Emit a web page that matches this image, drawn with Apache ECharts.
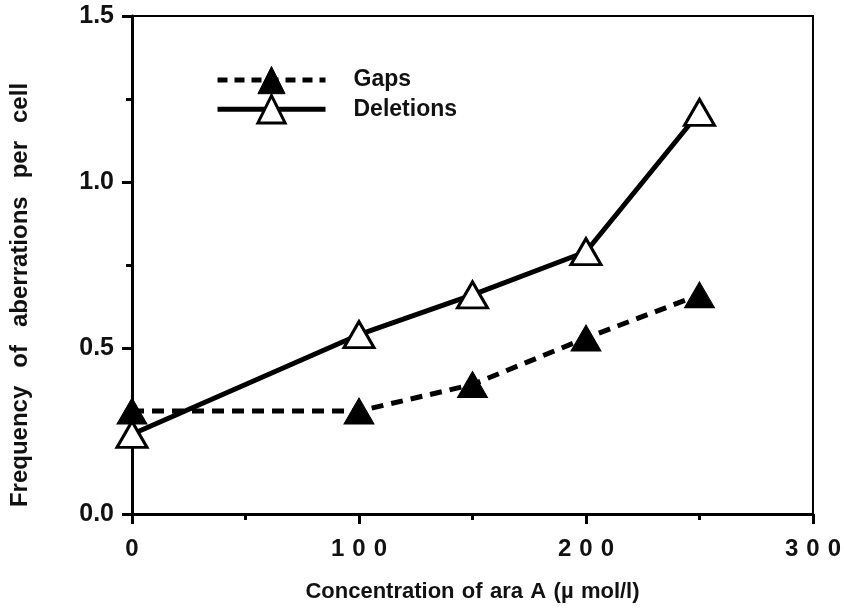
<!DOCTYPE html>
<html><head><meta charset="utf-8">
<script src="https://cdn.jsdelivr.net/npm/echarts@6/dist/echarts.min.js"></script>
<style>html,body{margin:0;padding:0;background:#fff}#c{width:844px;height:613px}</style>
</head><body><div id="c"></div>
<script>
const concentrations = [0, 100, 150, 200, 250];
const gaps = [0.31, 0.31, 0.39, 0.53, 0.66];
const deletions = [0.24, 0.54, 0.66, 0.79, 1.21];
const xTicks = [0, 100, 200, 300];
const yTicks = [0.0, 0.5, 1.0, 1.5];
const xTitle = 'Concentration of ara A (µ mol/l)';
const yTitle = 'Frequency of aberrations per cell';

const FONT = '"Liberation Sans", Arial, sans-serif';
const chart = echarts.init(document.getElementById('c'));
const pairs = v => concentrations.map((x, i) => [x, v[i]]);
chart.setOption({
  animation: false,
  grid: {left: 131, right: 31, top: 16, bottom: 99, show: true, borderColor: '#000', borderWidth: 2, backgroundColor: 'transparent'},
  legend: {
    left: 210, top: 61, orient: 'vertical', itemGap: 0, itemWidth: 108, itemHeight: 34,
    textStyle: {fontFamily: FONT, fontWeight: 'bold', fontSize: 23, color: '#111', padding: [0, 0, 0, 23]},
    data: [
      {name: 'Gaps', lineStyle: {width: 5, type: [10, 7], color: '#000'}, itemStyle: {color: '#000', borderColor: '#000', borderWidth: 1}},
      {name: 'Deletions', lineStyle: {width: 5, type: 'solid', color: '#000'}, itemStyle: {color: '#fff', borderColor: '#000', borderWidth: 3}}
    ]
  },
  xAxis: {
    type: 'value', min: xTicks[0], max: xTicks[xTicks.length - 1], interval: 100,
    name: xTitle.split(' ').join('\u2004'), nameLocation: 'middle', nameGap: 67,
    nameTextStyle: {fontFamily: FONT, fontWeight: 'bold', fontSize: 22, color: '#111'},
    axisLine: {lineStyle: {color: '#000', width: 3}},
    axisTick: {length: 10, lineStyle: {color: '#000', width: 3}},
    minorTick: {show: true, splitNumber: 2, length: 6, lineStyle: {color: '#000', width: 3}},
    splitLine: {show: false},
    axisLabel: {fontFamily: FONT, fontWeight: 'bold', fontSize: 24, color: '#111', margin: 23,
      formatter: v => String(v).split('').join('\u2004')}
  },
  yAxis: {
    type: 'value', min: yTicks[0], max: yTicks[yTicks.length - 1], interval: 0.5,
    name: yTitle.split(' ').join('\u2002\u2005'), nameLocation: 'middle', nameGap: 100,
    nameTextStyle: {fontFamily: FONT, fontWeight: 'bold', fontSize: 24, color: '#111', padding: [0, 60, 0, 0]},
    axisLine: {lineStyle: {color: '#000', width: 3}},
    axisTick: {length: 10, lineStyle: {color: '#000', width: 3}},
    minorTick: {show: true, splitNumber: 2, length: 6, lineStyle: {color: '#000', width: 3}},
    splitLine: {show: false},
    axisLabel: {fontFamily: FONT, fontWeight: 'bold', fontSize: 25, color: '#111', margin: 18,
      formatter: v => v.toFixed(1)}
  },
  series: [
    {
      name: 'Gaps', type: 'line', data: pairs(gaps),
      symbol: 'triangle', symbolSize: [30, 26],
      lineStyle: {color: '#000', width: 5, type: [12, 8]},
      itemStyle: {color: '#000', borderColor: '#000', borderWidth: 1}
    },
    {
      name: 'Deletions', type: 'line', data: pairs(deletions),
      symbol: 'triangle', symbolSize: [30, 26],
      lineStyle: {color: '#000', width: 5},
      itemStyle: {color: '#fff', borderColor: '#000', borderWidth: 3}
    }
  ]
});
</script></body></html>
